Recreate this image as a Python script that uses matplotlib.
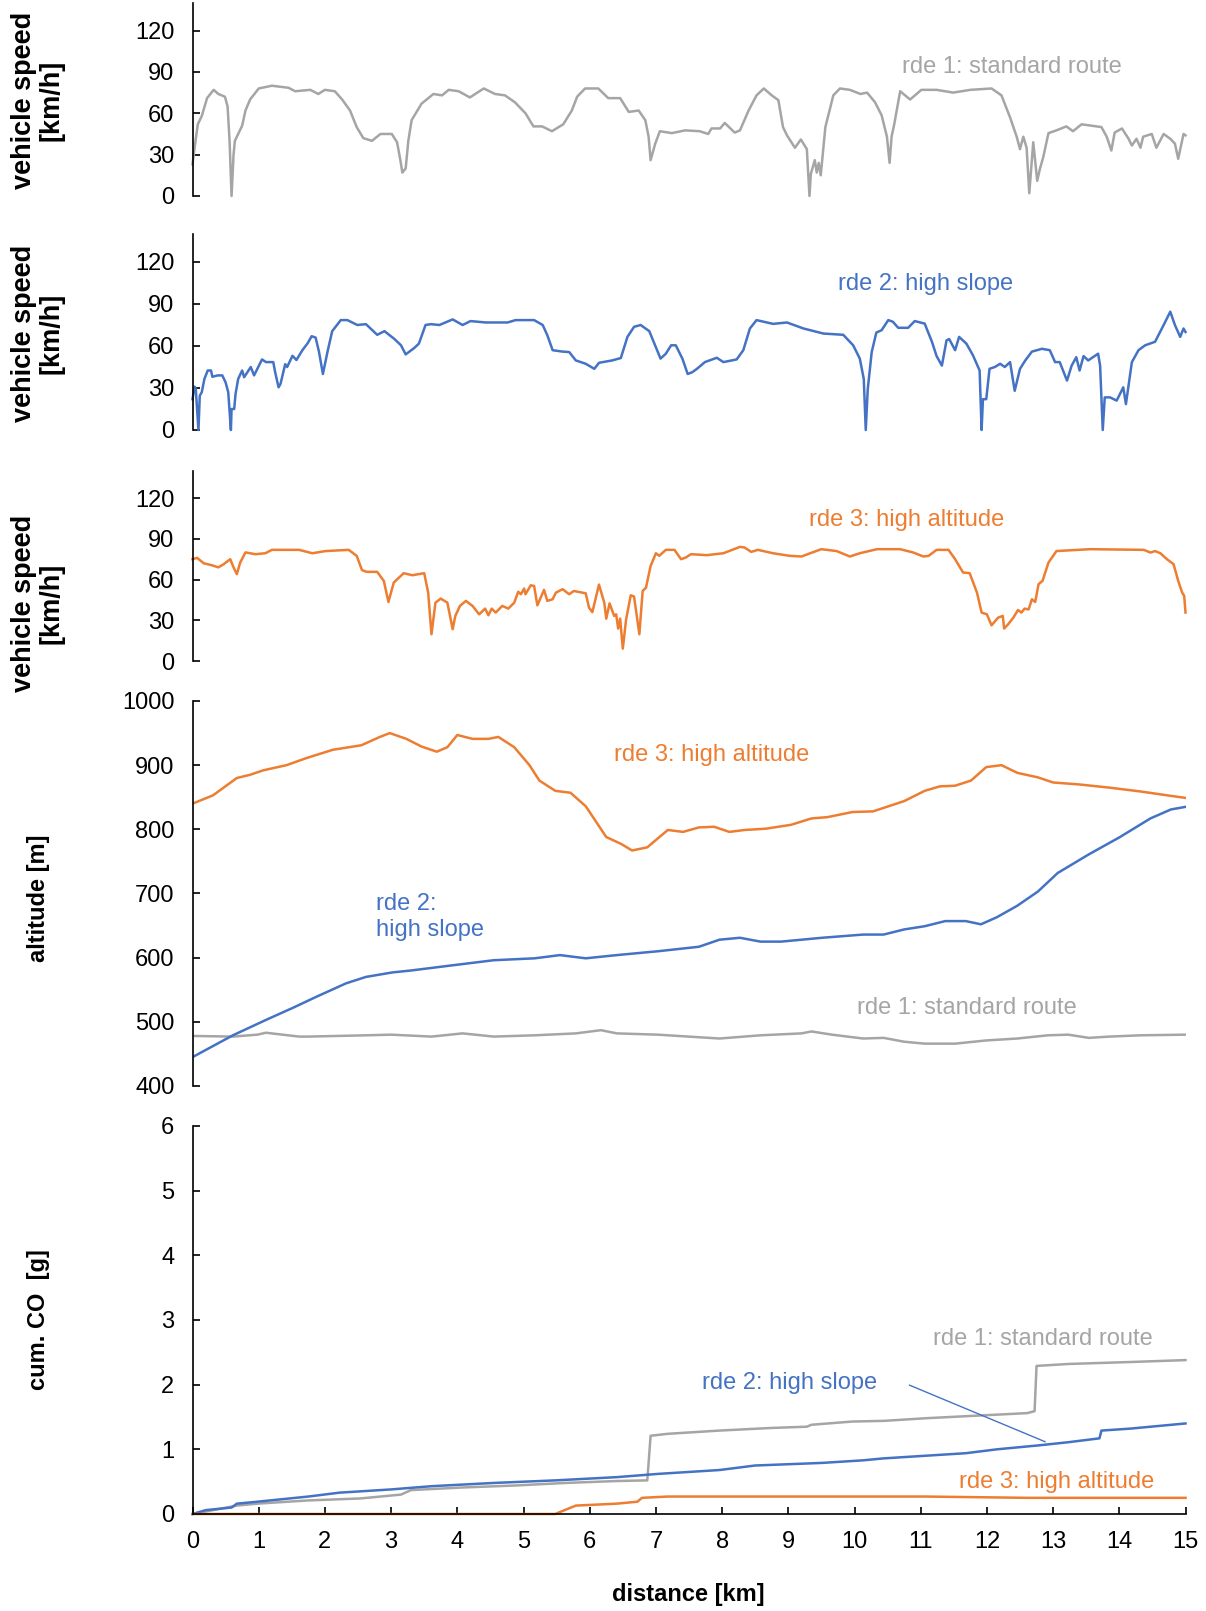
"""Speed, altitude and cumulative CO over distance for three RDE trips"""

import matplotlib
matplotlib.use("Agg")
import matplotlib.pyplot as plt

plt.rcParams["font.family"] = ["Liberation Sans", "DejaVu Sans"]

GRAY = "#A5A5A5"
BLUE = "#4472C4"
ORANGE = "#ED7D31"

# rde 1: standard route - vehicle speed [km/h]
rde1_speed_km = [0, 0.04, 0.08, 0.14, 0.22, 0.32, 0.39, 0.49, 0.53, 0.56, 0.59, 0.62, 0.64, 0.75, 0.80,
                 0.87, 1.0, 1.2, 1.45, 1.55, 1.78, 1.9, 2.0, 2.15, 2.26, 2.38, 2.48, 2.58, 2.71, 2.84,
                 3.01, 3.09, 3.14, 3.17, 3.22, 3.26, 3.31, 3.46, 3.64, 3.77, 3.87, 4.02, 4.19, 4.40,
                 4.57, 4.72, 4.87, 5.03, 5.15, 5.28, 5.43, 5.60, 5.73, 5.81, 5.93, 6.13, 6.28, 6.46,
                 6.59, 6.74, 6.84, 6.89, 6.92, 6.99, 7.06, 7.24, 7.44, 7.66, 7.79, 7.84, 7.97, 8.04,
                 8.19, 8.27, 8.40, 8.52, 8.63, 8.75, 8.85, 8.92, 8.98, 9.10, 9.19, 9.28, 9.32, 9.34,
                 9.40, 9.43, 9.46, 9.49, 9.56, 9.68, 9.78, 9.93, 10.09, 10.19, 10.31, 10.41, 10.49,
                 10.53, 10.56, 10.60, 10.69, 10.84, 11.01, 11.24, 11.49, 11.75, 12.07, 12.22, 12.35,
                 12.45, 12.50, 12.55, 12.60, 12.64, 12.70, 12.76, 12.80, 12.85, 12.93, 13.05, 13.20,
                 13.30, 13.43, 13.73, 13.81, 13.88, 13.93, 14.04, 14.14, 14.19, 14.26, 14.32, 14.36,
                 14.49, 14.56, 14.67, 14.77, 14.84, 14.89, 14.97, 15.0]
rde1_speed = [23, 38, 52, 58, 71, 77, 74, 72, 65, 40, 0, 30, 40, 51, 62,
              70, 78, 80, 78.5, 76, 77, 74, 77, 76, 70, 62, 50, 42, 40, 45,
              45, 39, 26, 17, 20, 40, 55, 67, 74, 73, 77, 76, 71.5, 78,
              74, 73, 68, 60, 50.5, 50.5, 47, 52, 62, 72, 78, 78, 71, 71,
              61, 62, 55, 43, 26, 38, 47, 45.6, 47.6, 47, 45, 49, 49, 53,
              46, 47.6, 62, 73, 78, 73, 69.5, 50, 44, 35, 41, 34, 0, 16,
              26, 17, 24, 15, 50, 73, 78, 77, 74, 75, 68, 58.5, 43,
              24, 43, 52, 76, 70, 77, 77, 75, 77, 78, 73, 57,
              43, 34, 43, 35, 2, 39, 11, 19.5, 28, 45.6, 47.6, 50.5,
              47, 52, 50, 43, 33, 46, 49, 41.5, 36.6, 41.5, 35, 43,
              45, 35, 45, 41.5, 38, 27, 45, 44]

# rde 2: high slope - vehicle speed [km/h]
rde2_speed_km = [0, 0.03, 0.05, 0.08, 0.09, 0.11, 0.14, 0.18, 0.23, 0.28, 0.30, 0.38, 0.45, 0.50, 0.54,
                 0.58, 0.59, 0.63, 0.65, 0.69, 0.75, 0.78, 0.88, 0.93, 1.05, 1.11, 1.22, 1.25, 1.30,
                 1.33, 1.40, 1.43, 1.51, 1.57, 1.66, 1.74, 1.80, 1.86, 1.91, 1.97, 2.04, 2.11, 2.24,
                 2.34, 2.49, 2.62, 2.79, 2.90, 3.05, 3.15, 3.22, 3.35, 3.42, 3.52, 3.60, 3.73, 3.93,
                 4.08, 4.20, 4.43, 4.76, 4.88, 5.16, 5.29, 5.36, 5.44, 5.59, 5.69, 5.79, 5.94, 6.07,
                 6.14, 6.34, 6.47, 6.57, 6.67, 6.77, 6.90, 7.00, 7.07, 7.15, 7.23, 7.30, 7.40, 7.48,
                 7.55, 7.62, 7.74, 7.92, 8.02, 8.22, 8.32, 8.42, 8.52, 8.77, 8.98, 9.23, 9.53, 9.83,
                 9.98, 10.08, 10.14, 10.17, 10.20, 10.26, 10.33, 10.41, 10.51, 10.58, 10.66, 10.81,
                 10.91, 11.06, 11.17, 11.24, 11.32, 11.39, 11.43, 11.52, 11.58, 11.69, 11.79, 11.89,
                 11.92, 11.94, 11.99, 12.04, 12.12, 12.20, 12.27, 12.35, 12.42, 12.50, 12.58, 12.68,
                 12.83, 12.95, 13.03, 13.10, 13.21, 13.28, 13.35, 13.40, 13.46, 13.53, 13.68, 13.71,
                 13.75, 13.78, 13.86, 13.96, 14.06, 14.10, 14.19, 14.29, 14.39, 14.54, 14.67, 14.77,
                 14.84, 14.92, 14.97, 15.0]
rde2_speed = [22, 31, 29, 8, 0, 24.5, 27, 36.5, 42.5, 42.5, 38, 39, 39, 34, 27,
              0, 15, 15, 25.7, 36.5, 42.5, 37.7, 45, 39, 50.4, 48.5, 48.5, 41, 30.5,
              33, 47, 45, 53, 50, 57, 62, 67, 66, 56, 40, 56, 70.6, 78.5,
              78.5, 75, 75.6, 68, 70.6, 65, 60.5, 54, 58.6, 61.7, 75, 75.6, 75, 79,
              75, 77.8, 76.8, 76.8, 78.5, 78.5, 75, 67.7, 57, 56, 55.7, 49.7, 47.3, 43.7,
              48, 49.7, 51.4, 66.5, 73.7, 75, 70.6, 59, 51, 54.5, 60.5, 60.5, 51, 40,
              41.3, 43.7, 48.5, 51.6, 48.5, 50.4, 57, 72.5, 78.5, 75.8, 76.8, 72.5, 68.9, 68,
              60.5, 51, 36.5, 0, 29, 55.7, 69.6, 71.3, 78.5, 77.3, 73, 73,
              77.8, 76, 63, 52.8, 46, 64, 65, 57, 66.5, 61.7, 53.3, 42.5,
              0, 22, 22, 43.7, 45, 47.3, 45, 48.5, 28, 43.7, 49.7, 56,
              58, 57, 48.5, 48.5, 35.3, 46, 52, 42.5, 52.8, 49.7, 54.5, 46,
              0, 23.3, 23.3, 21, 30.5, 18.5, 48.5, 57, 60.5, 63, 75, 84.5,
              75, 66.5, 72.5, 70]

# rde 3: high altitude - vehicle speed [km/h]
rde3_speed_km = [0, 0.07, 0.17, 0.29, 0.39, 0.47, 0.57, 0.62, 0.67, 0.72, 0.80, 0.95, 1.10, 1.20, 1.61,
                 1.81, 2.01, 2.36, 2.48, 2.56, 2.63, 2.79, 2.89, 2.96, 3.04, 3.19, 3.32, 3.50, 3.56,
                 3.61, 3.67, 3.75, 3.85, 3.93, 3.97, 4.04, 4.13, 4.23, 4.33, 4.42, 4.47, 4.52, 4.58,
                 4.68, 4.77, 4.86, 4.92, 4.96, 5.01, 5.03, 5.11, 5.16, 5.21, 5.31, 5.36, 5.44, 5.49,
                 5.59, 5.69, 5.76, 5.94, 5.99, 6.04, 6.14, 6.22, 6.25, 6.30, 6.37, 6.40, 6.43, 6.46,
                 6.50, 6.55, 6.62, 6.67, 6.75, 6.80, 6.85, 6.92, 7.00, 7.05, 7.15, 7.28, 7.38, 7.45,
                 7.53, 7.77, 8.02, 8.27, 8.34, 8.44, 8.54, 8.77, 9.02, 9.20, 9.33, 9.50, 9.73, 9.93,
                 10.08, 10.34, 10.69, 10.89, 11.04, 11.12, 11.24, 11.42, 11.52, 11.64, 11.74, 11.85,
                 11.92, 12.00, 12.07, 12.17, 12.24, 12.26, 12.32, 12.40, 12.47, 12.52, 12.57, 12.63,
                 12.68, 12.73, 12.78, 12.84, 12.93, 13.05, 13.56, 14.37, 14.47, 14.54, 14.62, 14.72,
                 14.82, 14.89, 14.95, 14.98, 15.0]
rde3_speed = [75, 76, 72, 70.6, 69, 71.3, 75, 69, 64, 72.5, 80, 78.7, 79.4, 81.9, 81.9,
              79.4, 81, 81.9, 77.5, 67, 65.7, 65.7, 59, 43.5, 57.8, 64.7, 63.2, 64.7, 50.4,
              19.7, 43, 46, 43, 23.4, 33.2, 40.6, 44.3, 40.6, 34.4, 38.6, 33.7, 38.6, 35.7,
              40.6, 38.6, 43, 51, 49.2, 53.4, 49.2, 55.8, 55.3, 41, 52.4, 44.3, 45.5, 50.4,
              52.9, 49.2, 51.6, 49.9, 39.3, 36, 56.3, 43, 31.2, 42.5, 33.2, 34.4, 23.9, 31.2,
              9.1, 30.7, 48.4, 47.5, 19.7, 51.6, 54, 70, 79.4, 77.5, 81.9, 81.9, 75, 76.2,
              78.7, 78, 79.4, 84.1, 83.6, 80.4, 81.9, 79.4, 77.5, 77, 79.4, 82.4, 81, 77,
              79.4, 82.4, 82.4, 79.9, 77, 77.5, 81.9, 81.9, 75, 65.2, 64.7, 50.4,
              35.7, 34.4, 26.3, 32, 33.2, 23.9, 27, 32, 37.6, 35.7, 38.6, 38,
              45.5, 43.5, 56.6, 59, 72.5, 81, 82.4, 81.9, 79.9, 81, 79.4, 75,
              71.3, 59, 50.4, 48, 35.7]

# altitude [m]
rde1_alt_km = [0, 0.61, 0.98, 1.11, 1.61, 1.75, 2.62, 3.0, 3.61, 4.08, 4.55, 5.17, 5.79, 6.17, 6.41,
               7.03, 7.96, 8.58, 9.20, 9.35, 9.66, 10.13, 10.44, 10.75, 11.06, 11.52, 11.99, 12.46,
               12.92, 13.23, 13.54, 13.85, 14.32, 15.0]
rde1_alt = [478, 477, 480, 483, 477, 477, 479, 480, 477, 482, 477, 479, 482, 487, 482,
            480, 474, 479, 482, 485, 480, 474, 475, 469, 466, 466, 471, 474,
            479, 480, 475, 477, 479, 480]

rde2_alt_km = [0, 0.61, 1.11, 1.52, 1.87, 2.32, 2.62, 3.02, 3.30, 3.92, 4.55, 5.17, 5.55, 5.94, 6.41,
               7.03, 7.65, 7.96, 8.27, 8.58, 8.89, 9.51, 10.13, 10.44, 10.75, 11.06, 11.37, 11.68,
               11.91, 12.15, 12.46, 12.77, 13.07, 13.54, 14.01, 14.47, 14.78, 15.0]
rde2_alt = [445, 479, 503, 522, 539, 560, 570, 577, 580, 588, 596, 599, 604, 599, 604,
            610, 617, 628, 631, 625, 625, 631, 636, 636, 644, 649, 657, 657,
            652, 663, 681, 703, 732, 761, 788, 817, 831, 835]

rde3_alt_km = [0, 0.31, 0.67, 0.87, 1.07, 1.42, 1.72, 2.12, 2.55, 2.83, 2.98, 3.23, 3.46, 3.69, 3.85,
               4.0, 4.23, 4.47, 4.62, 4.86, 5.09, 5.24, 5.48, 5.71, 5.94, 6.25, 6.48, 6.64, 6.87,
               7.18, 7.41, 7.65, 7.88, 8.11, 8.34, 8.66, 9.04, 9.35, 9.59, 9.97, 10.28, 10.75,
               11.06, 11.29, 11.52, 11.76, 11.99, 12.22, 12.46, 12.77, 13.0, 13.39, 13.85, 14.32,
               14.79, 15.0]
rde3_alt = [840, 853, 880, 885, 892, 900, 911, 924, 931, 944, 950, 941, 929, 921, 928,
            947, 941, 941, 944, 928, 900, 876, 860, 857, 836, 788, 777, 767, 772,
            799, 796, 803, 804, 796, 799, 801, 807, 817, 819, 827, 828, 844,
            860, 867, 868, 876, 897, 900, 888, 881, 873, 870, 865, 859,
            852, 849]

# cumulative CO [g]
rde1_co_km = [0, 0.67, 0.98, 1.75, 2.53, 3.15, 3.30, 4.08, 4.86, 5.63, 6.41, 6.87, 6.92, 7.18, 7.96,
              8.73, 9.28, 9.35, 9.97, 10.44, 11.06, 11.83, 12.61, 12.72, 12.75, 13.23, 14.16, 15.0]
rde1_co = [0, 0.13, 0.16, 0.21, 0.24, 0.30, 0.37, 0.41, 0.44, 0.48, 0.51, 0.52, 1.21, 1.24, 1.29,
           1.33, 1.35, 1.38, 1.43, 1.44, 1.48, 1.52, 1.56, 1.59, 2.29, 2.32, 2.35, 2.38]

rde2_co_km = [0, 0.2, 0.59, 0.67, 0.98, 1.75, 2.22, 3.0, 3.61, 4.55, 5.48, 6.41, 7.03, 7.96, 8.50,
              9.51, 10.13, 10.44, 11.06, 11.68, 12.15, 12.77, 13.23, 13.70, 13.73, 14.16, 15.0]
rde2_co = [0, 0.06, 0.10, 0.16, 0.19, 0.27, 0.33, 0.38, 0.43, 0.48, 0.52, 0.57, 0.62, 0.68, 0.75,
           0.79, 0.83, 0.86, 0.90, 0.94, 1.0, 1.06, 1.11, 1.17, 1.29, 1.32, 1.40]

rde3_co_km = [0, 5.48, 5.55, 5.79, 6.41, 6.72, 6.79, 7.18, 7.96, 9.51, 11.06, 12.61, 15.0]
rde3_co = [0, 0, 0.03, 0.13, 0.16, 0.19, 0.25, 0.27, 0.27, 0.27, 0.27, 0.25, 0.25]

W, H = 1206, 1611
FS = 17

fig = plt.figure(figsize=(W / 100, H / 100), dpi=100)


def make_axes(top_px, bottom_px):
    left = 192.5 / W
    width = (1185.5 - 192.5) / W
    ax = fig.add_axes([left, 1 - bottom_px / H, width, (bottom_px - top_px) / H])
    for side in ("top", "right"):
        ax.spines[side].set_visible(False)
    ax.spines["left"].set_linewidth(1.2)
    ax.spines["bottom"].set_linewidth(1.2)
    ax.tick_params(axis="y", direction="in", length=5, width=1.2, labelsize=FS, pad=13)
    ax.set_xlim(0, 15)
    return ax


def speed_panel(top_px, bottom_px, km, speed, color):
    ax = make_axes(top_px, bottom_px)
    ax.plot(km, speed, color=color, lw=1.8, clip_on=False)
    ax.set_ylim(0, 140)
    ax.set_yticks([0, 30, 60, 90, 120])
    ax.spines["bottom"].set_visible(False)
    ax.set_xticks([])
    return ax


ax1 = speed_panel(3, 196, rde1_speed_km, rde1_speed, GRAY)
ax2 = speed_panel(234, 430, rde2_speed_km, rde2_speed, BLUE)
ax3 = speed_panel(471, 661, rde3_speed_km, rde3_speed, ORANGE)

ax4 = make_axes(701, 1086)
ax4.plot(rde1_alt_km, rde1_alt, color=GRAY, lw=1.8)
ax4.plot(rde2_alt_km, rde2_alt, color=BLUE, lw=1.8)
ax4.plot(rde3_alt_km, rde3_alt, color=ORANGE, lw=1.8)
ax4.set_ylim(400, 1000)
ax4.set_yticks(range(400, 1001, 100))
ax4.spines["bottom"].set_visible(False)
ax4.set_xticks([])

ax5 = make_axes(1126, 1514)
ax5.plot(rde1_co_km, rde1_co, color=GRAY, lw=1.8, clip_on=False)
ax5.plot(rde2_co_km, rde2_co, color=BLUE, lw=1.8, clip_on=False)
ax5.plot(rde3_co_km, rde3_co, color=ORANGE, lw=1.8, clip_on=False)
ax5.set_ylim(0, 6)
ax5.set_yticks(range(0, 7))
ax5.set_xticks(range(0, 16))
ax5.tick_params(axis="x", direction="in", length=5, width=1.2, labelsize=FS, pad=12)
ax5.annotate("", xy=(12.92, 1.10), xytext=(10.79, 2.01),
             arrowprops=dict(arrowstyle="-", color=BLUE, lw=1))


def ftext(x, y, s, **kw):
    kw.setdefault("fontsize", FS)
    fig.text(x / W, 1 - y / H, s, va="center", **kw)


# series labels
ftext(1012, 67, "rde 1: standard route", color=GRAY, ha="center")
ftext(926, 284, "rde 2: high slope", color=BLUE, ha="center")
ftext(907, 520, "rde 3: high altitude", color=ORANGE, ha="center")
ftext(712, 755, "rde 3: high altitude", color=ORANGE, ha="center")
ftext(376, 917, "rde 2:\nhigh slope", color=BLUE, ha="left", linespacing=1.25)
ftext(967, 1008, "rde 1: standard route", color=GRAY, ha="center")
ftext(1043, 1339, "rde 1: standard route", color=GRAY, ha="center")
ftext(790, 1383, "rde 2: high slope", color=BLUE, ha="center")
ftext(1057, 1482, "rde 3: high altitude", color=ORANGE, ha="center")

# axis titles
for yc in (100, 333, 603):
    ftext(38, yc, "vehicle speed\n[km/h]", rotation=90, ha="center", weight="bold",
          multialignment="center", linespacing=1.1, fontsize=19.5)
ftext(38, 898, "altitude [m]", rotation=90, ha="center", weight="bold")
ftext(38, 1320, "cum. CO  [g]", rotation=90, ha="center", weight="bold")
ftext(688, 1594, "distance [km]", ha="center", weight="bold")

fig.savefig("out.png", dpi=100)
